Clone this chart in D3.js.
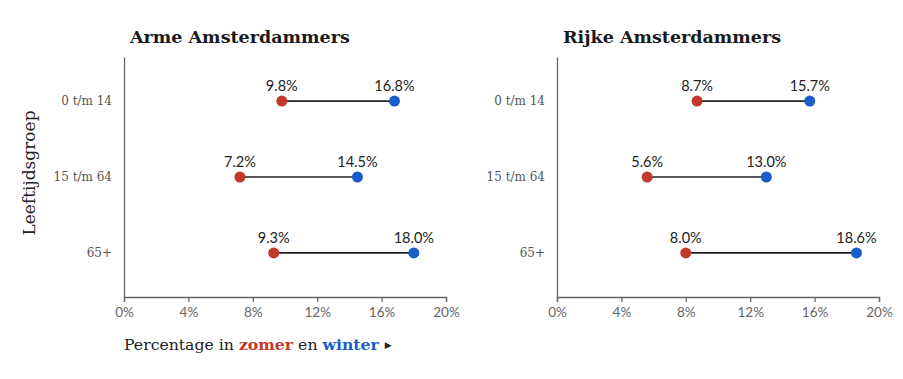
<!DOCTYPE html>
<html>
<head>
<meta charset="utf-8">
<script src="https://cdn.jsdelivr.net/npm/d3@7"></script>
<style>
  body { margin: 0; background: #fff; }
  .tick text { font-family: Lato, sans-serif; }
</style>
</head>
<body>
<div id="chart"></div>
<script>
// data
var groups = ["0 t/m 14", "15 t/m 64", "65+"];
var panels = ["Arme Amsterdammers", "Rijke Amsterdammers"];
var zomerArm = [9.8, 7.2, 9.3];
var winterArm = [16.8, 14.5, 18.0];
var zomerRijk = [8.7, 5.6, 8.0];
var winterRijk = [15.7, 13.0, 18.6];
var xTicks = [0, 4, 8, 12, 16, 20];

var red = "#c0392b", blue = "#1a5dc8";
var W = 903, H = 379;

var svg = d3.select("#chart").append("svg")
  .attr("width", W).attr("height", H);

var panelData = [
  { title: panels[0], zomer: zomerArm, winter: winterArm, x0: 124 },
  { title: panels[1], zomer: zomerRijk, winter: winterRijk, x0: 557 }
];

var plotTop = 57, plotBottom = 297, pw = 322;

// rows sit 76px apart, centred in the plot
var y = d3.scalePoint().domain(groups).range([plotTop, plotBottom]).padding(0.58);

panelData.forEach(function(p) {
  var g = svg.append("g").attr("transform", "translate(" + p.x0 + ",0)");
  var x = d3.scaleLinear().domain([0, 20]).range([0, pw]);

  g.append("text")
    .attr("x", 6).attr("y", 43)
    .style("font-family", "'DejaVu Serif', serif")
    .style("font-weight", "bold")
    .style("font-size", "17.5px")
    .style("fill", "#1a1a1a")
    .text(p.title);

  // x axis
  var xa = g.append("g")
    .attr("transform", "translate(0," + plotBottom + ")")
    .call(d3.axisBottom(x).tickValues(xTicks).tickSize(5).tickSizeOuter(5)
      .tickFormat(function(d) { return d + "%"; }));
  xa.select(".domain").attr("stroke", "#666").attr("stroke-width", 1.3);
  xa.selectAll(".tick line").attr("stroke", "#666").attr("stroke-width", 1.3);
  xa.selectAll(".tick text").attr("fill", "#666").style("font-size", "13.5px").attr("dy", "0.9em");

  // y axis
  var ya = g.append("g")
    .call(d3.axisLeft(y).tickSize(0).tickPadding(12));
  ya.select(".domain").attr("stroke", "#666").attr("stroke-width", 1.3);
  ya.selectAll(".tick text")
    .attr("fill", "#555")
    .style("font-family", "'DejaVu Serif', serif")
    .style("font-size", "12px");

  var rows = groups.map(function(gr, i) {
    return { g: gr, z: p.zomer[i], w: p.winter[i] };
  });

  g.selectAll(".link").data(rows).enter().append("line")
    .attr("x1", function(d) { return x(d.z); })
    .attr("x2", function(d) { return x(d.w); })
    .attr("y1", function(d) { return y(d.g); })
    .attr("y2", function(d) { return y(d.g); })
    .attr("stroke", "#222").attr("stroke-width", 1.7);

  [["z", red], ["w", blue]].forEach(function(s) {
    g.selectAll(".dot-" + s[0]).data(rows).enter().append("circle")
      .attr("cx", function(d) { return x(d[s[0]]); })
      .attr("cy", function(d) { return y(d.g); })
      .attr("r", 5.5)
      .attr("fill", s[1]);
    g.selectAll(".lab-" + s[0]).data(rows).enter().append("text")
      .attr("x", function(d) { return x(d[s[0]]); })
      .attr("y", function(d) { return y(d.g) - 10; })
      .attr("text-anchor", "middle")
      .style("font-family", "Lato, sans-serif")
      .style("font-size", "14.5px")
      .style("fill", "#222")
      .text(function(d) { return d[s[0]].toFixed(1) + "%"; });
  });
});

// y label
svg.append("text")
  .attr("transform", "translate(35,173) rotate(-90)")
  .attr("text-anchor", "middle")
  .style("font-family", "'DejaVu Serif', serif")
  .style("font-size", "17px")
  .style("fill", "#222")
  .text("Leeftijdsgroep");

// bottom legend label
var leg = svg.append("text")
  .attr("x", 124).attr("y", 350)
  .style("font-family", "'DejaVu Serif', serif")
  .style("font-size", "15.7px")
  .style("fill", "#222");
leg.append("tspan").text("Percentage in ");
leg.append("tspan").style("fill", red).style("font-weight", "bold").text("zomer");
leg.append("tspan").text(" en ");
leg.append("tspan").style("fill", blue).style("font-weight", "bold").text("winter");
leg.append("tspan").style("font-size", "9px").attr("dx", 6).attr("dy", -2).text("\u25B6");
</script>
</body>
</html>
